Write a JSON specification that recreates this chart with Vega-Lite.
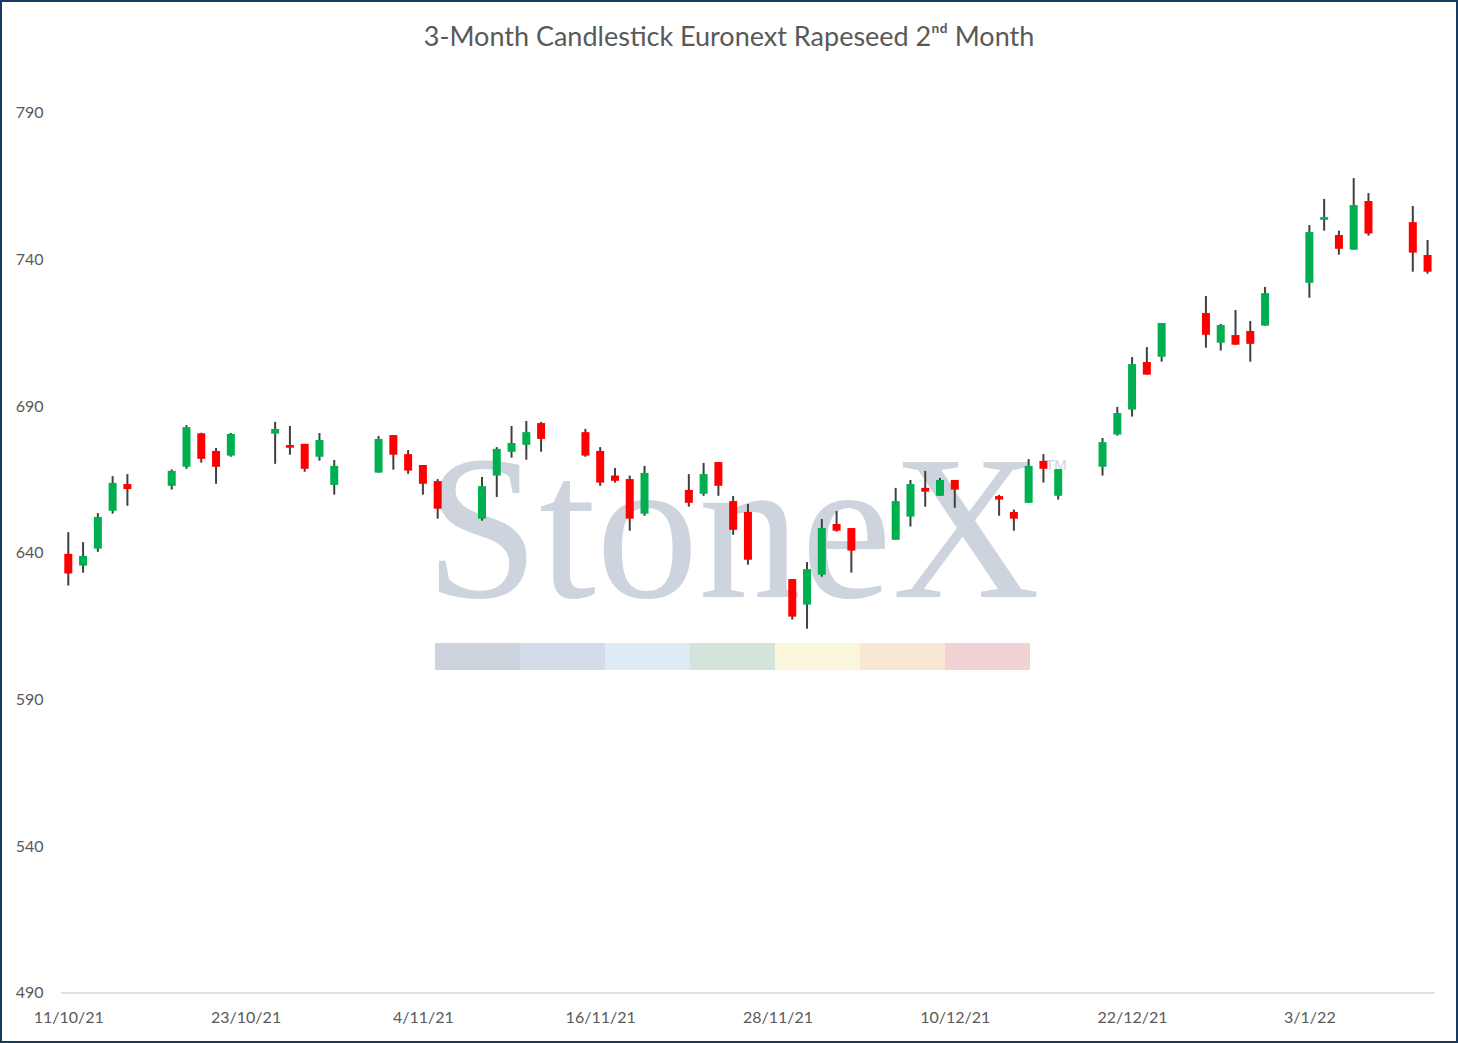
{
  "$schema": "https://vega.github.io/schema/vega-lite/v6.json",
  "width": 1458,
  "height": 1043,
  "autosize": {"type": "none"},
  "padding": 0,
  "background": "white",
  "config": {
    "font": "Lato",
    "view": {"stroke": "#173B5F", "strokeWidth": 4}
  },
  "title": {
    "text": "3-Month Candlestick Euronext Rapeseed 2ⁿᵈ Month",
    "font": "Lato",
    "fontSize": 27,
    "fontWeight": "normal",
    "color": "#595959",
    "anchor": "middle",
    "offset": -52
  },
  "data": {
    "values": [
      {"date": "2021-10-11", "open": 639.7, "high": 647.1, "low": 628.9, "close": 633.0},
      {"date": "2021-10-12", "open": 635.7, "high": 643.7, "low": 633.3, "close": 639.0},
      {"date": "2021-10-13", "open": 641.5, "high": 653.6, "low": 640.4, "close": 652.3},
      {"date": "2021-10-14", "open": 654.4, "high": 666.2, "low": 653.4, "close": 663.9},
      {"date": "2021-10-15", "open": 663.5, "high": 666.9, "low": 656.1, "close": 661.8},
      {"date": "2021-10-18", "open": 662.9, "high": 668.5, "low": 661.6, "close": 668.0},
      {"date": "2021-10-19", "open": 669.4, "high": 683.6, "low": 668.7, "close": 682.9},
      {"date": "2021-10-20", "open": 680.8, "high": 681.0, "low": 670.8, "close": 672.1},
      {"date": "2021-10-21", "open": 674.8, "high": 675.8, "low": 663.6, "close": 669.4},
      {"date": "2021-10-22", "open": 673.2, "high": 680.9, "low": 672.8, "close": 680.6},
      {"date": "2021-10-25", "open": 680.7, "high": 684.7, "low": 670.4, "close": 682.3},
      {"date": "2021-10-26", "open": 676.8, "high": 683.3, "low": 673.5, "close": 675.9},
      {"date": "2021-10-27", "open": 677.2, "high": 677.2, "low": 667.7, "close": 668.7},
      {"date": "2021-10-28", "open": 672.8, "high": 680.9, "low": 671.5, "close": 678.5},
      {"date": "2021-10-29", "open": 663.2, "high": 671.7, "low": 659.9, "close": 669.7},
      {"date": "2021-11-01", "open": 667.4, "high": 679.9, "low": 667.4, "close": 678.9},
      {"date": "2021-11-02", "open": 680.2, "high": 680.2, "low": 668.4, "close": 673.5},
      {"date": "2021-11-03", "open": 673.7, "high": 675.1, "low": 667.0, "close": 668.1},
      {"date": "2021-11-04", "open": 670.0, "high": 670.0, "low": 659.9, "close": 663.6},
      {"date": "2021-11-05", "open": 664.5, "high": 665.2, "low": 651.7, "close": 655.1},
      {"date": "2021-11-08", "open": 651.7, "high": 665.9, "low": 651.0, "close": 662.8},
      {"date": "2021-11-09", "open": 666.4, "high": 676.1, "low": 659.1, "close": 675.5},
      {"date": "2021-11-10", "open": 674.5, "high": 683.3, "low": 672.5, "close": 677.5},
      {"date": "2021-11-11", "open": 676.9, "high": 685.0, "low": 671.8, "close": 681.2},
      {"date": "2021-11-12", "open": 684.3, "high": 684.7, "low": 674.5, "close": 678.9},
      {"date": "2021-11-15", "open": 681.2, "high": 682.3, "low": 672.8, "close": 673.2},
      {"date": "2021-11-16", "open": 674.8, "high": 676.1, "low": 662.9, "close": 664.0},
      {"date": "2021-11-17", "open": 666.4, "high": 669.0, "low": 664.0, "close": 664.6},
      {"date": "2021-11-18", "open": 665.2, "high": 666.4, "low": 647.6, "close": 651.7},
      {"date": "2021-11-19", "open": 653.4, "high": 669.7, "low": 652.7, "close": 667.3},
      {"date": "2021-11-22", "open": 661.5, "high": 666.9, "low": 655.8, "close": 657.1},
      {"date": "2021-11-23", "open": 660.2, "high": 670.7, "low": 659.5, "close": 666.9},
      {"date": "2021-11-24", "open": 671.0, "high": 671.0, "low": 659.5, "close": 662.9},
      {"date": "2021-11-25", "open": 657.7, "high": 659.4, "low": 646.2, "close": 647.9},
      {"date": "2021-11-26", "open": 654.0, "high": 656.7, "low": 636.0, "close": 637.7},
      {"date": "2021-11-29", "open": 631.1, "high": 631.1, "low": 617.3, "close": 618.3},
      {"date": "2021-11-30", "open": 622.4, "high": 636.9, "low": 614.2, "close": 634.5},
      {"date": "2021-12-01", "open": 632.6, "high": 651.6, "low": 631.9, "close": 648.5},
      {"date": "2021-12-02", "open": 649.9, "high": 654.3, "low": 647.3, "close": 647.6},
      {"date": "2021-12-03", "open": 648.5, "high": 648.5, "low": 633.3, "close": 640.8},
      {"date": "2021-12-06", "open": 644.5, "high": 662.2, "low": 644.5, "close": 657.7},
      {"date": "2021-12-07", "open": 652.4, "high": 664.9, "low": 649.0, "close": 663.5},
      {"date": "2021-12-08", "open": 662.2, "high": 668.0, "low": 655.8, "close": 660.9},
      {"date": "2021-12-09", "open": 659.5, "high": 665.6, "low": 659.5, "close": 664.9},
      {"date": "2021-12-10", "open": 664.9, "high": 664.9, "low": 655.4, "close": 661.6},
      {"date": "2021-12-13", "open": 659.4, "high": 659.8, "low": 652.7, "close": 658.2},
      {"date": "2021-12-14", "open": 654.0, "high": 654.8, "low": 647.6, "close": 651.7},
      {"date": "2021-12-15", "open": 657.1, "high": 672.0, "low": 657.1, "close": 669.7},
      {"date": "2021-12-16", "open": 671.4, "high": 673.7, "low": 664.0, "close": 668.7},
      {"date": "2021-12-17", "open": 659.5, "high": 668.6, "low": 658.2, "close": 668.6},
      {"date": "2021-12-20", "open": 669.4, "high": 679.2, "low": 666.4, "close": 677.8},
      {"date": "2021-12-21", "open": 680.4, "high": 689.8, "low": 680.0, "close": 687.7},
      {"date": "2021-12-22", "open": 688.9, "high": 706.8, "low": 686.5, "close": 704.4},
      {"date": "2021-12-23", "open": 705.1, "high": 710.2, "low": 700.8, "close": 700.8},
      {"date": "2021-12-24", "open": 706.9, "high": 718.4, "low": 705.2, "close": 718.4},
      {"date": "2021-12-27", "open": 721.8, "high": 727.6, "low": 710.0, "close": 714.4},
      {"date": "2021-12-28", "open": 711.7, "high": 718.1, "low": 709.0, "close": 717.7},
      {"date": "2021-12-29", "open": 714.3, "high": 722.8, "low": 711.0, "close": 711.0},
      {"date": "2021-12-30", "open": 715.7, "high": 719.1, "low": 705.2, "close": 711.3},
      {"date": "2021-12-31", "open": 717.5, "high": 730.7, "low": 717.5, "close": 728.6},
      {"date": "2022-01-03", "open": 732.1, "high": 751.8, "low": 727.0, "close": 749.4},
      {"date": "2022-01-04", "open": 753.6, "high": 760.7, "low": 749.9, "close": 754.5},
      {"date": "2022-01-05", "open": 748.4, "high": 749.9, "low": 741.7, "close": 743.7},
      {"date": "2022-01-06", "open": 743.4, "high": 767.8, "low": 743.4, "close": 758.6},
      {"date": "2022-01-07", "open": 760.0, "high": 762.7, "low": 748.2, "close": 748.9},
      {"date": "2022-01-10", "open": 752.8, "high": 758.3, "low": 735.9, "close": 742.4},
      {"date": "2022-01-11", "open": 741.6, "high": 746.7, "low": 735.2, "close": 735.9}
    ]
  },
  "encoding": {
    "y": {
      "type": "quantitative",
      "scale": {"domain": [472.95, 828.52], "zero": false, "nice": false},
      "axis": {
        "orient": "left",
        "offset": -62,
        "title": null,
        "domain": false,
        "ticks": false,
        "tickSize": 0,
        "grid": false,
        "labelPadding": 19,
        "labelFontSize": 16,
        "labelColor": "#595959",
        "values": [490, 540, 590, 640, 690, 740, 790]
      }
    }
  },
  "layer": [
    {
      "data": {"values": [{}]},
      "mark": {"type": "rect", "color": "#CDD3DC"},
      "encoding": {
        "x": {"datum": 1636054848000, "type": "temporal"},
        "x2": {"datum": 1636551648000},
        "y": {"datum": 609.3, "type": "quantitative"},
        "y2": {"datum": 600.1}
      }
    },
    {
      "data": {"values": [{}]},
      "mark": {"type": "rect", "color": "#D3DDE9"},
      "encoding": {
        "x": {"datum": 1636551648000, "type": "temporal"},
        "x2": {"datum": 1637049312000},
        "y": {"datum": 609.3, "type": "quantitative"},
        "y2": {"datum": 600.1}
      }
    },
    {
      "data": {"values": [{}]},
      "mark": {"type": "rect", "color": "#DEEAF4"},
      "encoding": {
        "x": {"datum": 1637049312000, "type": "temporal"},
        "x2": {"datum": 1637546112000},
        "y": {"datum": 609.3, "type": "quantitative"},
        "y2": {"datum": 600.1}
      }
    },
    {
      "data": {"values": [{}]},
      "mark": {"type": "rect", "color": "#D4E4DA"},
      "encoding": {
        "x": {"datum": 1637546112000, "type": "temporal"},
        "x2": {"datum": 1638042912000},
        "y": {"datum": 609.3, "type": "quantitative"},
        "y2": {"datum": 600.1}
      }
    },
    {
      "data": {"values": [{}]},
      "mark": {"type": "rect", "color": "#FAF6DC"},
      "encoding": {
        "x": {"datum": 1638042912000, "type": "temporal"},
        "x2": {"datum": 1638540576000},
        "y": {"datum": 609.3, "type": "quantitative"},
        "y2": {"datum": 600.1}
      }
    },
    {
      "data": {"values": [{}]},
      "mark": {"type": "rect", "color": "#F8E7D3"},
      "encoding": {
        "x": {"datum": 1638540576000, "type": "temporal"},
        "x2": {"datum": 1639037376000},
        "y": {"datum": 609.3, "type": "quantitative"},
        "y2": {"datum": 600.1}
      }
    },
    {
      "data": {"values": [{}]},
      "mark": {"type": "rect", "color": "#F1D3D6"},
      "encoding": {
        "x": {"datum": 1639037376000, "type": "temporal"},
        "x2": {"datum": 1639534176000},
        "y": {"datum": 609.3, "type": "quantitative"},
        "y2": {"datum": 600.1}
      }
    },
    {
      "data": {"values": [{}]},
      "mark": {
        "type": "text",
        "text": "StoneX",
        "font": "Liberation Serif",
        "fontSize": 205,
        "align": "center",
        "baseline": "alphabetic",
        "color": "#CDD4DD"
      },
      "encoding": {
        "x": {"datum": 1637794944000, "type": "temporal"},
        "y": {"datum": 625.0, "type": "quantitative"}
      }
    },
    {
      "data": {"values": [{}]},
      "mark": {
        "type": "text",
        "text": "TM",
        "font": "Liberation Sans",
        "fontSize": 15,
        "align": "center",
        "baseline": "middle",
        "color": "#CDD4DD"
      },
      "encoding": {
        "x": {"datum": 1639686240000, "type": "temporal"},
        "y": {"datum": 670.0, "type": "quantitative"}
      }
    },
    {
      "data": {"values": [{}]},
      "mark": {"type": "rule", "color": "#D9D9D9", "strokeWidth": 1.5},
      "encoding": {
        "x": {"datum": 1633867200000, "type": "temporal"},
        "x2": {"datum": 1641902400000},
        "y": {"datum": 490, "type": "quantitative"}
      }
    },
    {
      "mark": {"type": "rule", "color": "#404040", "strokeWidth": 2},
      "encoding": {
        "x": {
          "field": "date",
          "type": "temporal",
          "scale": {
            "type": "utc",
            "padding": 0,
            "domain": [
              {"year": 2021, "month": 10, "date": 6, "hours": 9, "minutes": 3, "utc": true},
              {"year": 2022, "month": 1, "date": 13, "hours": 1, "minutes": 26, "utc": true}
            ]
          },
          "axis": {
            "orient": "bottom",
            "offset": -50,
            "title": null,
            "domain": false,
            "ticks": false,
            "tickSize": 0,
            "grid": false,
            "labelPadding": 16,
            "labelFontSize": 16,
            "labelColor": "#595959",
            "labelOverlap": false,
            "labelFlush": false,
            "format": "%-d/%-m/%y",
            "values": [
              {"year": 2021, "month": 10, "date": 11, "utc": true},
              {"year": 2021, "month": 10, "date": 23, "utc": true},
              {"year": 2021, "month": 11, "date": 4, "utc": true},
              {"year": 2021, "month": 11, "date": 16, "utc": true},
              {"year": 2021, "month": 11, "date": 28, "utc": true},
              {"year": 2021, "month": 12, "date": 10, "utc": true},
              {"year": 2021, "month": 12, "date": 22, "utc": true},
              {"year": 2022, "month": 1, "date": 3, "utc": true}
            ]
          }
        },
        "y": {"field": "low", "type": "quantitative"},
        "y2": {"field": "high"}
      }
    },
    {
      "mark": {"type": "bar", "width": 8},
      "encoding": {
        "x": {
          "field": "date",
          "type": "temporal",
          "scale": {
            "type": "utc",
            "padding": 0,
            "domain": [
              {"year": 2021, "month": 10, "date": 6, "hours": 9, "minutes": 3, "utc": true},
              {"year": 2022, "month": 1, "date": 13, "hours": 1, "minutes": 26, "utc": true}
            ]
          }
        },
        "y": {"field": "open", "type": "quantitative"},
        "y2": {"field": "close"},
        "color": {
          "condition": {"test": "datum.open < datum.close", "value": "#00B050"},
          "value": "#FF0000"
        }
      }
    }
  ]
}
